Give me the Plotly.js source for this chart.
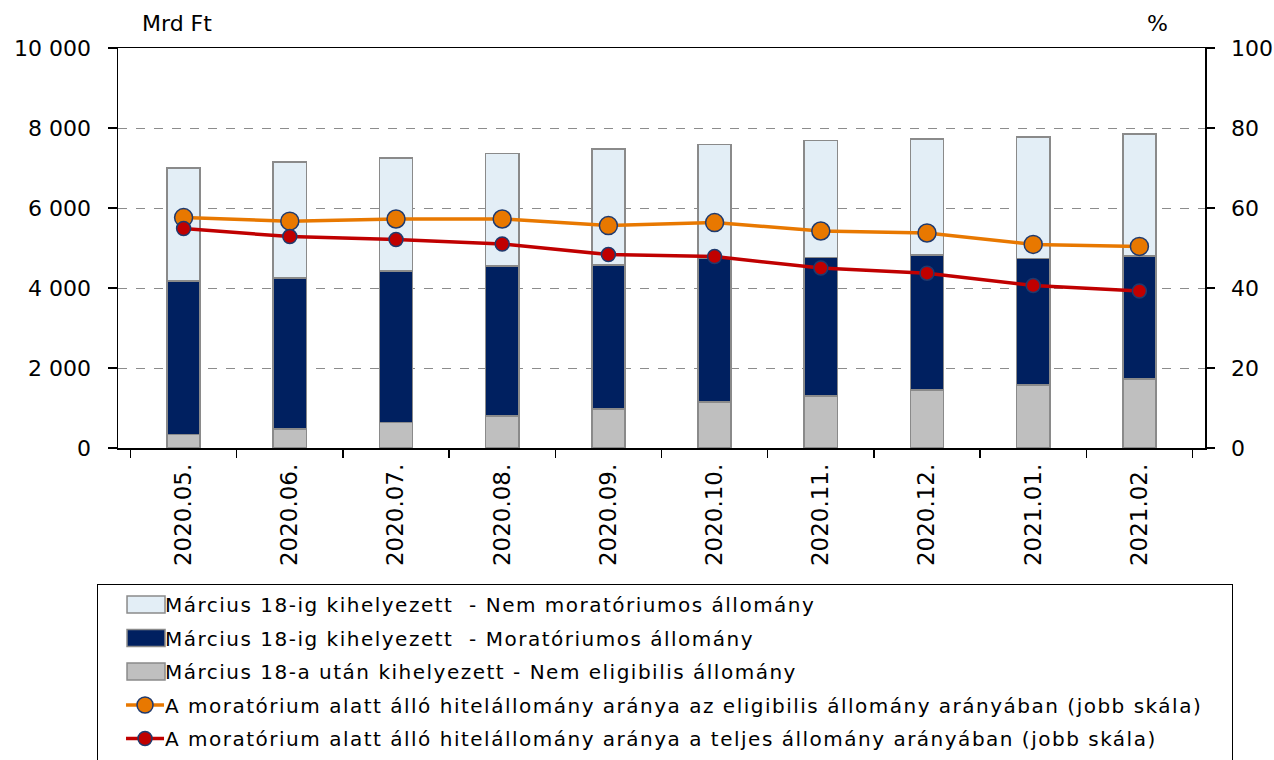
<!DOCTYPE html>
<html><head><meta charset="utf-8">
<script src="https://cdn.plot.ly/plotly-3.0.1.min.js"></script>
<style>body{margin:0;background:#fff}#c{width:1274px;height:760px}
#c .legendtext{letter-spacing:1.5px}</style>
</head><body><div id="c"></div>
<script>
const categories = ["2020.05.","2020.06.","2020.07.","2020.08.","2020.09.","2020.10.","2020.11.","2020.12.","2021.01.","2021.02."];
const nemEligibilis = [335,470,635,795,970,1145,1295,1445,1570,1720];
const moratoriumos = [3835,3775,3785,3750,3605,3590,3465,3375,3165,3075];
const nemMoratoriumos = [2830,2900,2830,2815,2895,2850,2925,2905,3040,3050];
const aranyEligibilis = [57.6,56.7,57.25,57.25,55.6,56.35,54.25,53.75,50.9,50.4];
const aranyTeljes = [54.85,52.85,52.1,51.0,48.35,47.85,45.0,43.7,40.6,39.25];
const names = [
 "Március 18-ig kihelyezett  - Nem moratóriumos állomány",
 "Március 18-ig kihelyezett  - Moratóriumos állomány",
 "Március 18-a után kihelyezett - Nem eligibilis állomány",
 "A moratórium alatt álló hitelállomány aránya az eligibilis állomány arányában (jobb skála)",
 "A moratórium alatt álló hitelállomány aránya a teljes állomány arányában (jobb skála)"
];
const FONT = "'DejaVu Sans', sans-serif";
const barLine = {color:"#8a8a8a", width:1.5};
const traces = [
 {type:"bar", x:categories, y:nemEligibilis, name:names[2], legendrank:3, legendgroup:"g3", marker:{color:"#BFBFBF", line:barLine}},
 {type:"bar", x:categories, y:moratoriumos, name:names[1], legendrank:2, legendgroup:"g2", marker:{color:"#002060", line:barLine}},
 {type:"bar", x:categories, y:nemMoratoriumos, name:names[0], legendrank:1, legendgroup:"g1", marker:{color:"#E3EEF6", line:barLine}},
 {type:"scatter", mode:"lines+markers", x:categories, y:aranyEligibilis, yaxis:"y2", name:names[3], legendrank:4, legendgroup:"g4",
  line:{color:"#E87800", width:3.5}, marker:{size:18, color:"#E87800", line:{color:"#1F3A6E", width:1.5}}},
 {type:"scatter", mode:"lines+markers", x:categories, y:aranyTeljes, yaxis:"y2", name:names[4], legendrank:5, legendgroup:"g5",
  line:{color:"#C00000", width:3.5}, marker:{size:14, color:"#C00000", line:{color:"#1F3A6E", width:1.5}}}
];
const layout = {
 width:1274, height:760,
 margin:{l:118, r:69, t:48, b:312, autoexpand:false},
 paper_bgcolor:"#fff", plot_bgcolor:"#fff",
 font:{family:FONT, size:20, color:"#000"},
 barmode:"stack", bargap:0.687,
 showlegend:true,
 legend:{x:-0.0193, xanchor:"left", y:-0.34, yanchor:"top", orientation:"v",
   traceorder:"grouped", tracegroupgap:4.5, bordercolor:"#000", borderwidth:1,
   font:{family:FONT, size:20, color:"#000"}, itemwidth:57},
 xaxis:{type:"category", showline:true, linecolor:"#000", linewidth:1.5, mirror:true,
   ticks:"outside", tickson:"boundaries", ticklen:8, tickcolor:"#000", tickwidth:1.5,
   ticklabelstandoff:5,
   tickangle:-90, tickfont:{size:23}, showgrid:false, automargin:false},
 yaxis:{range:[0,10000], tickvals:[0,2000,4000,6000,8000,10000],
   ticktext:["0","2 000","4 000","6 000","8 000","10 000"], automargin:false,
   showline:true, linecolor:"#000", linewidth:1.5, ticks:"outside", ticklen:9, tickcolor:"#000", tickwidth:1.5,
   ticklabelstandoff:12,
   showgrid:true, gridcolor:"#8c8c8c", griddash:"dash", gridwidth:1, zeroline:false, tickfont:{size:22}},
 yaxis2:{range:[0,100], tickvals:[0,20,40,60,80,100], overlaying:"y", side:"right", automargin:false,
   showline:true, linecolor:"#000", linewidth:1.5, ticks:"outside", ticklen:8, tickcolor:"#000", tickwidth:1.5,
   ticklabelstandoff:12,
   showgrid:false, zeroline:false, tickfont:{size:22}},
 annotations:[
  {text:"Mrd Ft", xref:"paper", yref:"paper", x:0.02, y:1.0, yshift:10, xanchor:"left", yanchor:"bottom", showarrow:false, font:{size:22}},
  {text:"%", xref:"paper", yref:"paper", x:0.956, y:1.0, yshift:10, xanchor:"center", yanchor:"bottom", showarrow:false, font:{size:22}}
 ]
};
Plotly.newPlot("c", traces, layout, {displayModeBar:false, staticPlot:true}).then(function(gd){
  // Excel-like legend keys and box size
  var LEGEND_W = 1135, LEGEND_H = 190;
  var bg = gd.querySelector('.legend rect.bg');
  if (bg) { bg.setAttribute('width', LEGEND_W); bg.setAttribute('height', LEGEND_H); }
  var clipId = null;
  var sb = gd.querySelector('.legend .scrollbox');
  if (sb) { var cp = sb.getAttribute('clip-path'); if (cp) { var m = cp.match(/#([^)'"]+)/); if (m) clipId = m[1]; } }
  if (clipId) { var cr = document.getElementById(clipId); if (cr) cr.querySelectorAll('rect').forEach(function(r){ r.setAttribute('width', LEGEND_W); r.setAttribute('height', LEGEND_H); }); }
  gd.querySelectorAll('.legend .traces').forEach(function(tr){
    var line = tr.querySelector('path.js-line');
    if (line) {
      line.setAttribute('d','M28,0h38');
      tr.querySelectorAll('path.scatterpts').forEach(function(p){ p.setAttribute('transform','translate(47,0)'); });
    } else {
      tr.querySelectorAll('.legendpoints path').forEach(function(p){
        p.setAttribute('d','M-19,8.5H19V-8.5H-19Z'); p.setAttribute('transform','translate(48,0)');
        p.style.strokeWidth = '1.5px';
      });
    }
  });
});
</script></body></html>
